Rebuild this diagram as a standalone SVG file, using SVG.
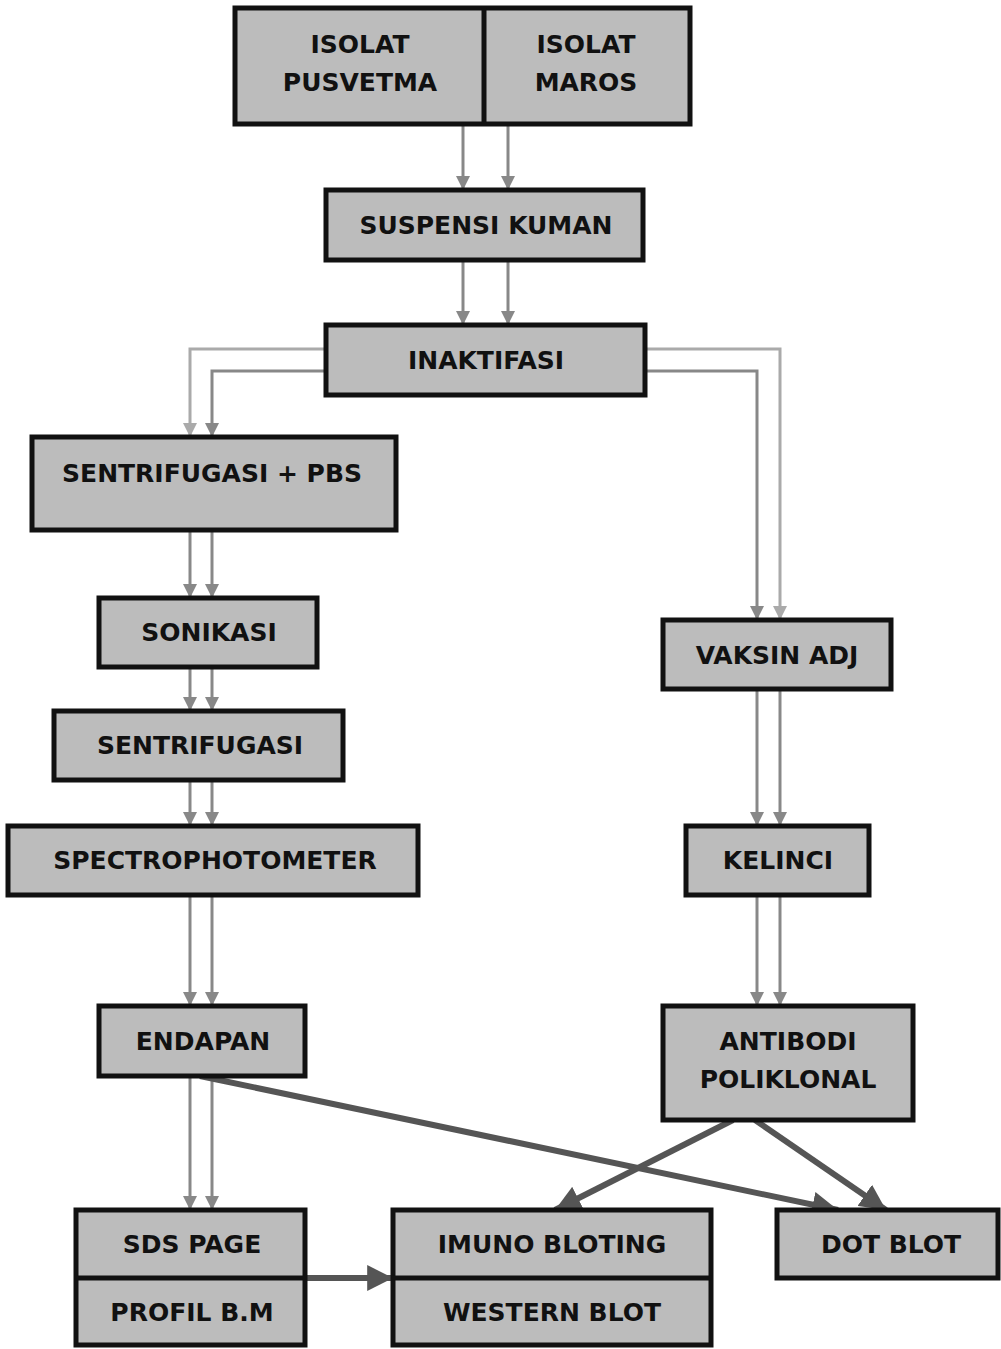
<svg xmlns="http://www.w3.org/2000/svg" width="1001" height="1349" viewBox="0 0 1001 1349">
<defs>
<style>
.box{fill:#bcbcbc;stroke:#111;stroke-width:5}
.div{stroke:#111;stroke-width:5}
.t{font-family:"DejaVu Sans","Liberation Sans",sans-serif;font-weight:bold;font-size:25px;fill:#111;text-anchor:middle;dominant-baseline:central}
.c{fill:none;stroke:#888;stroke-width:3}
.cl{fill:none;stroke:#aaa;stroke-width:3}
.k{fill:none;stroke:#555;stroke-width:6}
</style>
<marker id="ah" viewBox="0 0 10 10" refX="10" refY="5" markerWidth="4.8" markerHeight="4.8" orient="auto" markerUnits="strokeWidth"><path d="M0,0 L10,5 L0,10 z" fill="#888"/></marker>
<marker id="ahl" viewBox="0 0 10 10" refX="10" refY="5" markerWidth="4.8" markerHeight="4.8" orient="auto" markerUnits="strokeWidth"><path d="M0,0 L10,5 L0,10 z" fill="#aaa"/></marker>
<marker id="ak" viewBox="0 0 10 10" refX="10" refY="5" markerWidth="4.3" markerHeight="4.3" orient="auto" markerUnits="strokeWidth"><path d="M0,0 L10,5 L0,10 z" fill="#555"/></marker>
</defs>
<rect width="1001" height="1349" fill="#fff"/>
<g id="connectors">
<path class="c" d="M463,124 V190" marker-end="url(#ah)"/>
<path class="c" d="M508,124 V190" marker-end="url(#ah)"/>
<path class="c" d="M463,260 V325" marker-end="url(#ah)"/>
<path class="c" d="M508,260 V325" marker-end="url(#ah)"/>
<path class="cl" d="M326,349 H190 V437" marker-end="url(#ahl)"/>
<path class="c" d="M326,371 H212 V437" marker-end="url(#ah)"/>
<path class="cl" d="M645,349 H780 V620" marker-end="url(#ahl)"/>
<path class="c" d="M645,371 H757 V620" marker-end="url(#ah)"/>
<path class="c" d="M190,530 V598" marker-end="url(#ah)"/>
<path class="c" d="M212,530 V598" marker-end="url(#ah)"/>
<path class="c" d="M190,667 V711" marker-end="url(#ah)"/>
<path class="c" d="M212,667 V711" marker-end="url(#ah)"/>
<path class="c" d="M190,780 V826" marker-end="url(#ah)"/>
<path class="c" d="M212,780 V826" marker-end="url(#ah)"/>
<path class="c" d="M190,895 V1006" marker-end="url(#ah)"/>
<path class="c" d="M212,895 V1006" marker-end="url(#ah)"/>
<path class="c" d="M190,1076 V1210" marker-end="url(#ah)"/>
<path class="c" d="M212,1076 V1210" marker-end="url(#ah)"/>
<path class="c" d="M757,689 V826" marker-end="url(#ah)"/>
<path class="c" d="M780,689 V826" marker-end="url(#ah)"/>
<path class="c" d="M757,895 V1006" marker-end="url(#ah)"/>
<path class="c" d="M780,895 V1006" marker-end="url(#ah)"/>
<path class="k" d="M200,1076 L838,1210" marker-end="url(#ak)"/>
<path class="k" d="M733,1120 L555,1210" marker-end="url(#ak)"/>
<path class="k" d="M755,1120 L886,1210" marker-end="url(#ak)"/>
<path class="k" d="M305,1278 L393,1278" marker-end="url(#ak)"/>
</g>
<g id="isolat">
<rect class="box" x="235" y="8" width="455" height="116"/>
<line class="div" x1="484" y1="8" x2="484" y2="124"/>
<text class="t" x="360" y="44">ISOLAT</text>
<text class="t" x="360" y="82">PUSVETMA</text>
<text class="t" x="586" y="44">ISOLAT</text>
<text class="t" x="586" y="82">MAROS</text>
</g>
<g id="suspensi">
<rect class="box" x="326" y="190" width="317" height="70"/>
<text class="t" x="486" y="225">SUSPENSI KUMAN</text>
</g>
<g id="inaktifasi">
<rect class="box" x="326" y="325" width="319" height="70"/>
<text class="t" x="486" y="360">INAKTIFASI</text>
</g>
<g id="sentrifugasi-pbs">
<rect class="box" x="32" y="437" width="364" height="93"/>
<text class="t" x="212" y="473">SENTRIFUGASI + PBS</text>
</g>
<g id="sonikasi">
<rect class="box" x="99" y="598" width="218" height="69"/>
<text class="t" x="209" y="632">SONIKASI</text>
</g>
<g id="sentrifugasi">
<rect class="box" x="54" y="711" width="289" height="69"/>
<text class="t" x="200" y="745">SENTRIFUGASI</text>
</g>
<g id="spectrophotometer">
<rect class="box" x="8" y="826" width="410" height="69"/>
<text class="t" x="215" y="860">SPECTROPHOTOMETER</text>
</g>
<g id="endapan">
<rect class="box" x="99" y="1006" width="206" height="70"/>
<text class="t" x="203" y="1041">ENDAPAN</text>
</g>
<g id="sds-page">
<rect class="box" x="76" y="1210" width="229" height="135"/>
<line class="div" x1="76" y1="1278" x2="305" y2="1278"/>
<text class="t" x="192" y="1244">SDS PAGE</text>
<text class="t" x="192" y="1312">PROFIL B.M</text>
</g>
<g id="imuno-bloting">
<rect class="box" x="393" y="1210" width="318" height="135"/>
<line class="div" x1="393" y1="1278" x2="711" y2="1278"/>
<text class="t" x="552" y="1244">IMUNO BLOTING</text>
<text class="t" x="552" y="1312">WESTERN BLOT</text>
</g>
<g id="dot-blot">
<rect class="box" x="777" y="1210" width="221" height="68"/>
<text class="t" x="891" y="1244">DOT BLOT</text>
</g>
<g id="vaksin-adj">
<rect class="box" x="663" y="620" width="228" height="69"/>
<text class="t" x="777" y="655">VAKSIN ADJ</text>
</g>
<g id="kelinci">
<rect class="box" x="686" y="826" width="183" height="69"/>
<text class="t" x="778" y="860">KELINCI</text>
</g>
<g id="antibodi">
<rect class="box" x="663" y="1006" width="250" height="114"/>
<text class="t" x="788" y="1041">ANTIBODI</text>
<text class="t" x="788" y="1079">POLIKLONAL</text>
</g>
</svg>
